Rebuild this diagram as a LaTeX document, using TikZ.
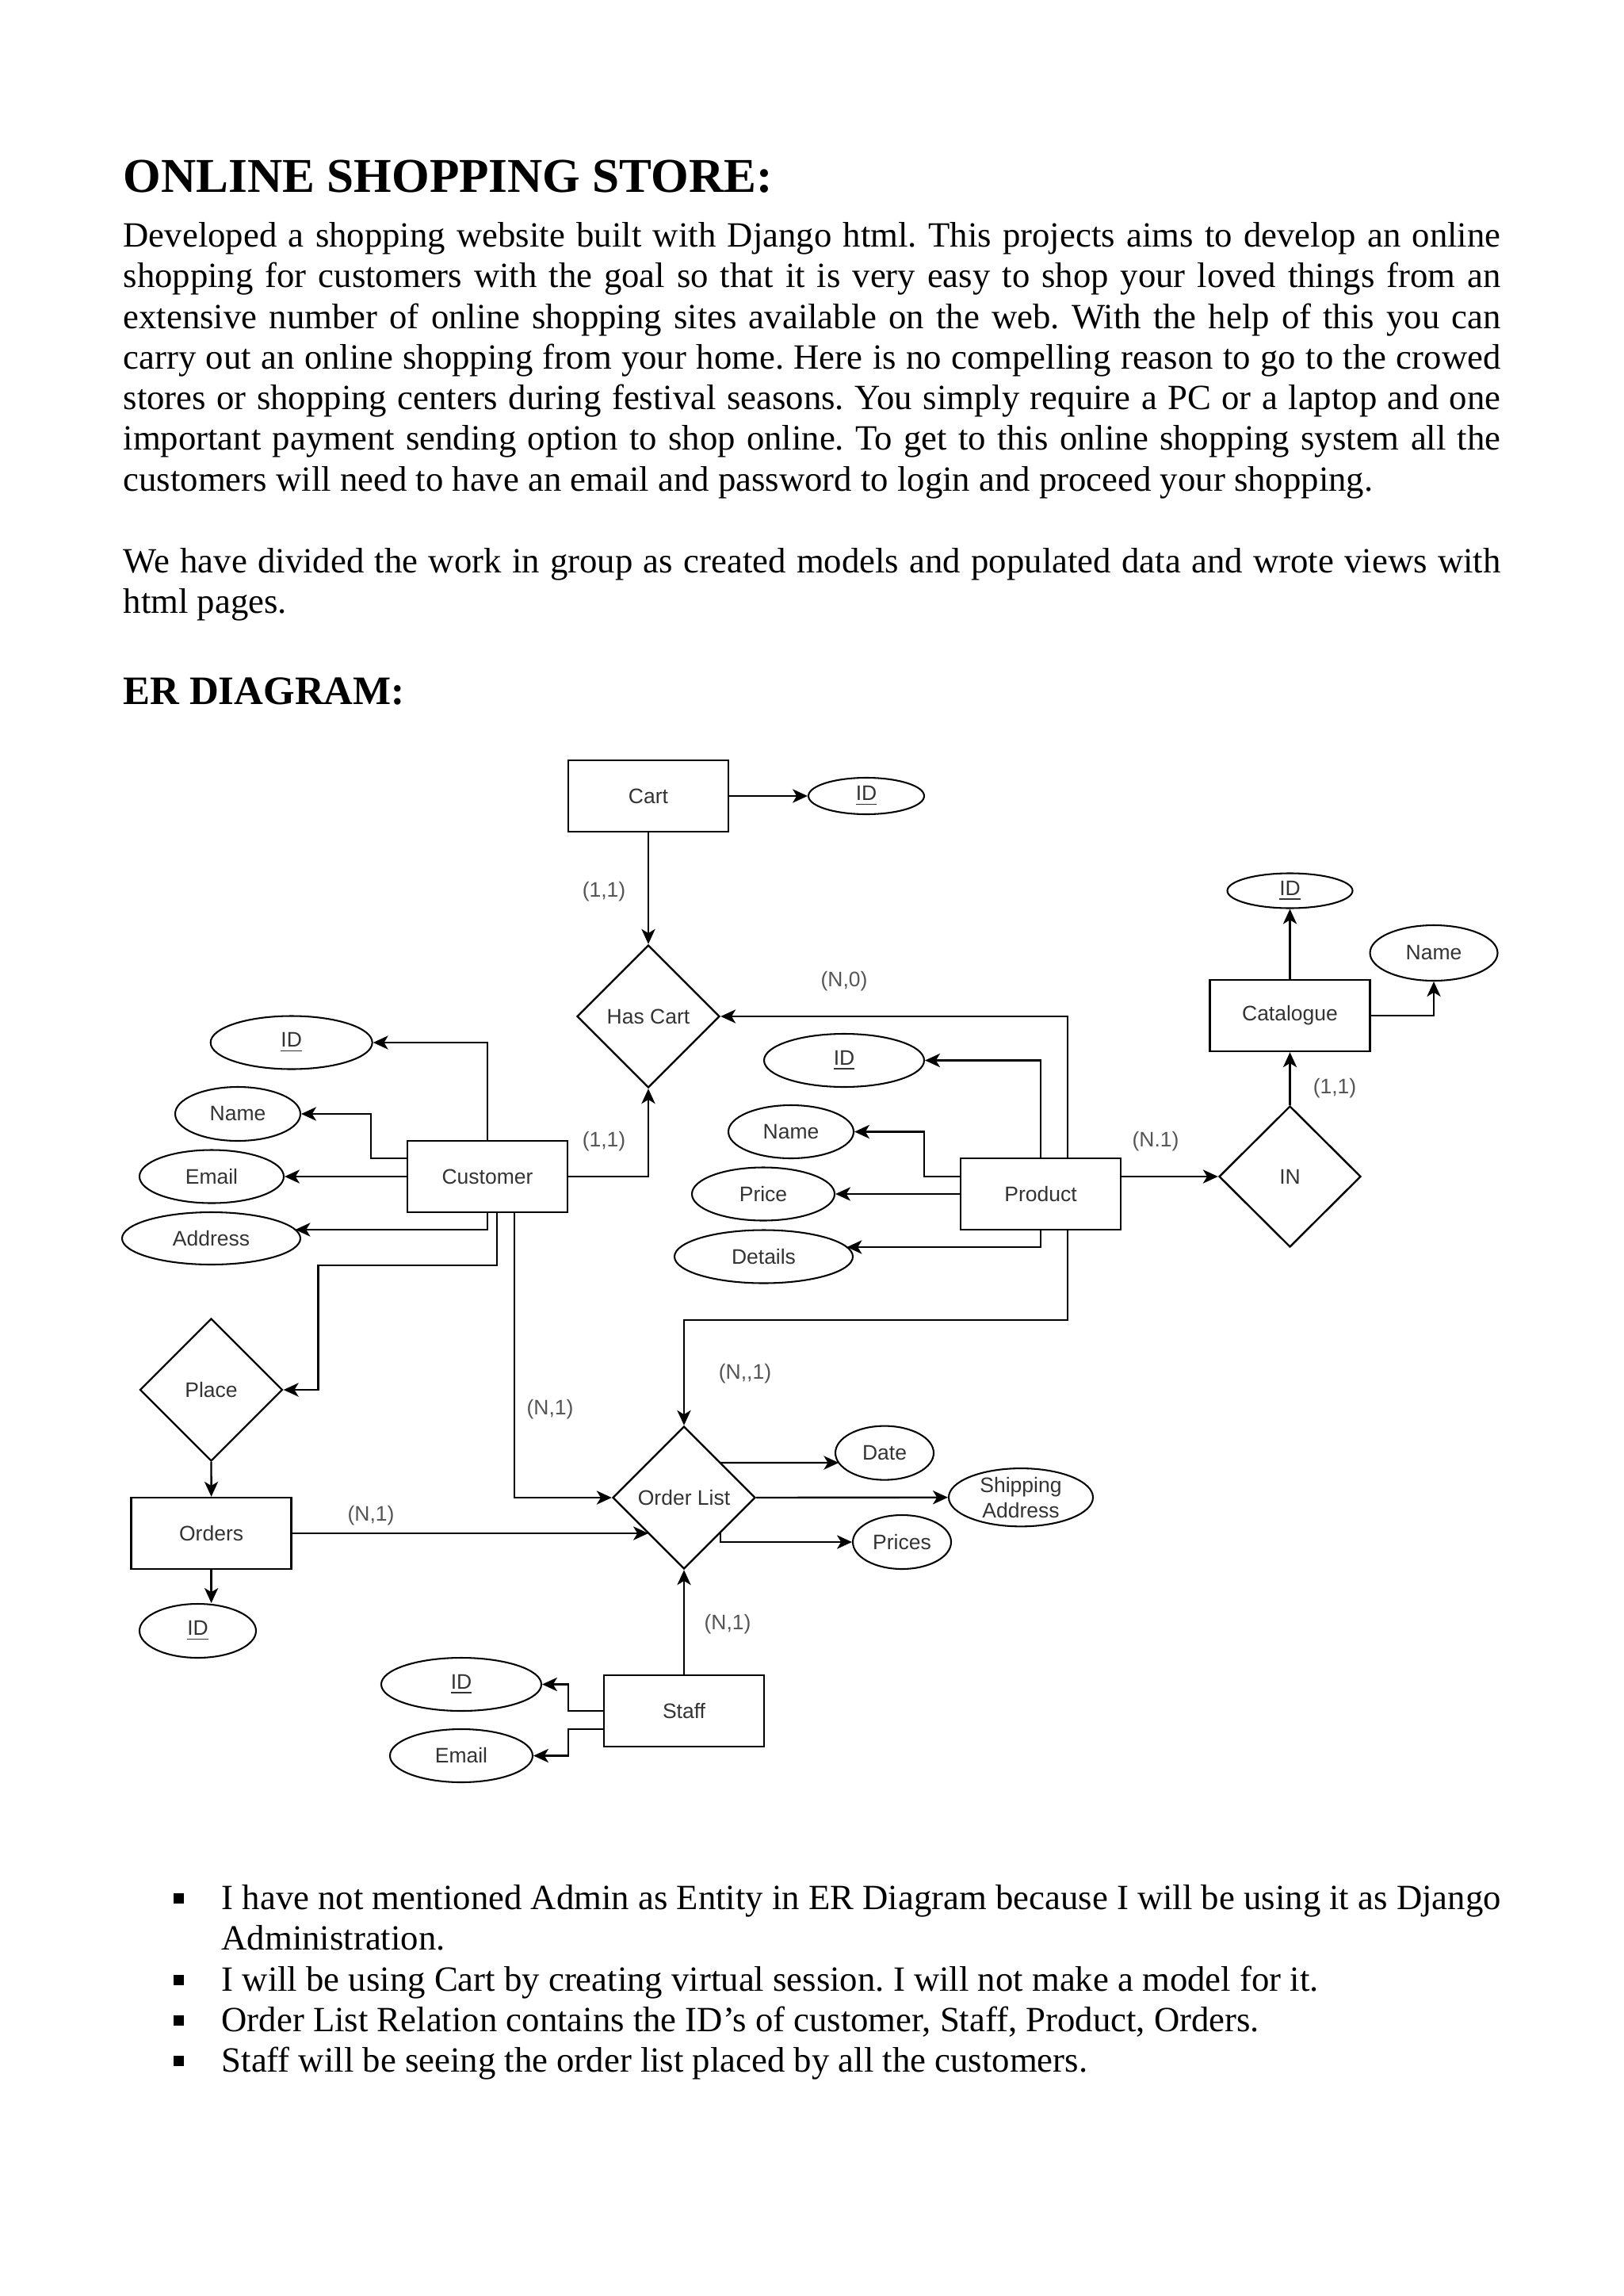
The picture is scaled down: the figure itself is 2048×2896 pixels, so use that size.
\documentclass[tikz,border=0pt]{standalone}
\usepackage{fontspec}
\setmainfont{Liberation Serif}
\newfontfamily\dsans{Liberation Sans}
\usetikzlibrary{shapes.geometric,arrows.meta,calc}
\frenchspacing
\newcommand\PX{0.2906pt}
\newcommand\dfont{\dsans\fontsize{7.7}{9.2}\selectfont}
\definecolor{txtc}{HTML}{333333}
\definecolor{lblc}{HTML}{555555}
\tikzset{
  ent/.style={draw,rectangle,minimum width=202*\PX,minimum height=90*\PX,inner sep=0pt,line width=0.7pt,font=\dfont,text=txtc},
  rel/.style={draw,diamond,aspect=1,minimum width=180*\PX,minimum height=180*\PX,inner sep=0pt,line width=0.7pt,font=\dfont,text=txtc},
  attr/.style={draw,ellipse,inner sep=0pt,line width=0.6pt,font=\dfont,text=txtc},
  lbl/.style={font=\dfont,text=lblc,inner sep=0pt},
  conn/.style={line width=0.7pt,-{Stealth[length=5.5pt,width=5pt,inset=1.5pt]}},
  body/.style={anchor=base west,inner sep=0pt,font=\frenchspacing\fontsize{13}{14.9}\selectfont},
  bul/.style={fill,rectangle,minimum size=13*\PX,inner sep=0pt},
}
\begin{document}
\begin{tikzpicture}[x=\PX,y=-\PX]
\useasboundingbox (0,0) rectangle (2048,2896);
% ---------- text ----------
\node[anchor=base west,inner sep=0pt,font=\bfseries\fontsize{17.8}{20}\selectfont] (title) at (155,243) {ONLINE SHOPPING STORE:};
\node[body] (l1) at (155,311.5) {\makebox[505pt][s]{Developed a shopping website built with Django html. This projects aims to develop an online}};
\node[body] (l2) at (155,362.8) {\makebox[505pt][s]{shopping for customers with the goal so that it is very easy to shop your loved things from an}};
\node[body] (l3) at (155,414.1) {\makebox[505pt][s]{extensive number of online shopping sites available on the web. With the help of this you can}};
\node[body] (l4) at (155,465.4) {\makebox[505pt][s]{carry out an online shopping from your home. Here is no compelling reason to go to the crowed}};
\node[body] (l5) at (155,516.7) {\makebox[505pt][s]{stores or shopping centers during festival seasons. You simply require a PC or a laptop and one}};
\node[body] (l6) at (155,568) {\makebox[505pt][s]{important payment sending option to shop online. To get to this online shopping system all the}};
\node[body] (l7) at (155,619.3) {customers will need to have an email and password to login and proceed your shopping.};
\node[body] (l8) at (155,722.5) {\makebox[505pt][s]{We have divided the work in group as created models and populated data and wrote views with}};
\node[body] (l9) at (155,773.8) {html pages.};
\node[anchor=base west,inner sep=0pt,font=\bfseries\fontsize{14.8}{17}\selectfont] (erh) at (155,888) {ER DIAGRAM:};
% bullets
\node[bul] (b1) at (225.5,2394.5) {};
\node[body] (t1) at (279,2408.5) {\makebox[469pt][s]{I have not mentioned Admin as Entity in ER Diagram because I will be using it as Django}};
\node[body] (t1b) at (279,2459.8) {Administration.};
\node[bul] (b2) at (225.5,2497.1) {};
\node[body] (t2) at (279,2511.1) {I will be using Cart by creating virtual session. I will not make a model for it.};
\node[bul] (b3) at (225.5,2548.4) {};
\node[body] (t3) at (279,2562.4) {Order List Relation contains the ID’s of customer, Staff, Product, Orders.};
\node[bul] (b4) at (225.5,2599.7) {};
\node[body] (t4) at (279,2613.7) {Staff will be seeing the order list placed by all the customers.};
% ---------- diagram nodes ----------
\node[ent] (cart) at (818,1004) {Cart};
\node[attr,minimum width=146*\PX,minimum height=46*\PX] (cartid) at (1093,1004) {\underline{ID}};
\node[rel] (hascart) at (818,1282) {Has Cart};
\node[ent] (cust) at (615,1484) {Customer};
\node[attr,minimum width=204*\PX,minimum height=67*\PX] (cid) at (367.7,1315) {\underline{ID}};
\node[attr,minimum width=158*\PX,minimum height=68*\PX] (cname) at (300,1405) {Name};
\node[attr,minimum width=182*\PX,minimum height=67*\PX] (cemail) at (267,1484) {Email};
\node[attr,minimum width=225*\PX,minimum height=66*\PX] (caddr) at (266.5,1562) {Address};
\node[rel] (place) at (266.5,1753) {Place};
\node[ent] (orders) at (266.6,1934) {Orders};
\node[attr,minimum width=147*\PX,minimum height=68*\PX] (oid) at (249.5,2057) {\underline{ID}};
\node[rel] (ol) at (863,1889) {Order List};
\node[attr,minimum width=124*\PX,minimum height=68*\PX] (date) at (1116,1832.6) {Date};
\node[attr,minimum width=182*\PX,minimum height=67*\PX,align=center,font=\dsans\fontsize{7.7}{9.4}\selectfont] (ship) at (1288,1888.7) {Shipping\\Address};
\node[attr,minimum width=124*\PX,minimum height=68*\PX] (prices) at (1138,1945) {Prices};
\node[ent] (staff) at (863,2158) {Staff};
\node[attr,minimum width=202*\PX,minimum height=67*\PX] (sid) at (582,2124.5) {\underline{ID}};
\node[attr,minimum width=180*\PX,minimum height=67*\PX] (semail) at (582,2214.5) {Email};
\node[ent] (prod) at (1313,1506) {Product};
\node[attr,minimum width=202*\PX,minimum height=67*\PX] (pid) at (1065,1337.5) {\underline{ID}};
\node[attr,minimum width=158*\PX,minimum height=67*\PX] (pname) at (998,1427.5) {Name};
\node[attr,minimum width=180*\PX,minimum height=67*\PX] (price) at (963,1506) {Price};
\node[attr,minimum width=225*\PX,minimum height=67*\PX] (details) at (963.5,1585) {Details};
\node[rel,minimum width=179*\PX,minimum height=178*\PX] (in) at (1627.5,1484) {IN};
\node[ent] (cat) at (1627.5,1281) {Catalogue};
\node[attr,minimum width=158*\PX,minimum height=44*\PX] (catid) at (1627.5,1123.5) {\underline{ID}};
\node[attr,minimum width=161*\PX,minimum height=70*\PX] (catname) at (1809,1202) {Name};
% ---------- labels ----------
\node[lbl] (lb1) at (762,1125) {(1,1)};
\node[lbl] (lb2) at (762,1440) {(1,1)};
\node[lbl] (lb3) at (1065,1238) {(N,0)};
\node[lbl] (lb4) at (1458,1440) {(N.1)};
\node[lbl] (lb5) at (1684,1373) {(1,1)};
\node[lbl] (lb6) at (940,1733) {(N,,1)};
\node[lbl] (lb7) at (694,1778) {(N,1)};
\node[lbl] (lb8) at (468,1912) {(N,1)};
\node[lbl] (lb9) at (918,2049) {(N,1)};
% ---------- connectors ----------
\draw[conn] (cart.east) -- (cartid.west);
\draw[conn] (cart.south) -- (hascart.north);
\draw[conn] (cust.east) -| (hascart.south);
\draw[conn] (cust.north) |- (cid.east);
\draw[conn] ($(cust.west)+(0,-23)$) -| (468,1405) -- (cname.east);
\draw[conn] (cust.west) -- (cemail.east);
\draw[conn] (cust.south) |- ($(caddr.center)+(106,-11)$);
\draw[conn] ($(cust.south)+(12,0)$) |- (401.5,1596) |- (place.east);
\draw[conn] ($(cust.south)+(34,0)$) |- (ol.west);
\draw[conn] (place.south) -- (orders.north);
\draw[conn] (orders.south) -- (orders.south |- oid.north);
\draw[conn] (orders.east) -- ($(ol.center)+(-45,45)$);
\draw[conn] (prod.north) |- (pid.east);
\draw[conn] ($(prod.west)+(0,-22)$) -| (1166,1427.5) -- (pname.east);
\draw[conn] (prod.west) -- (price.east);
\draw[conn] (prod.south) |- ($(details.center)+(105,-12)$);
\draw[conn] ($(prod.north)+(34,0)$) |- (hascart.east);
\draw[conn] ($(prod.south)+(34,0)$) -- ++(0,113) -| (ol.north);
\draw[conn] ($(prod.east)+(0,-22)$) -- (in.west);
\draw[conn] (in.north) -- (cat.south);
\draw[conn] (cat.north) -- (catid.south);
\draw[conn] (cat.east) -| (catname.south);
\draw[conn] ($(ol.center)+(45,-44)$) -- ($(date.center)+(-57.7,12.4)$);
\draw[conn] (ol.east) -- (ship.west);
\draw[conn] ($(ol.center)+(46,44)$) |- (prices.west);
\draw[conn] (staff.north) -- (ol.south);
\draw[conn] (staff.west) -| (717,2124.5) -- (sid.east);
\draw[conn] ($(staff.west)+(0,23)$) -| (717,2214.5) -- (semail.east);
\end{tikzpicture}
\end{document}
